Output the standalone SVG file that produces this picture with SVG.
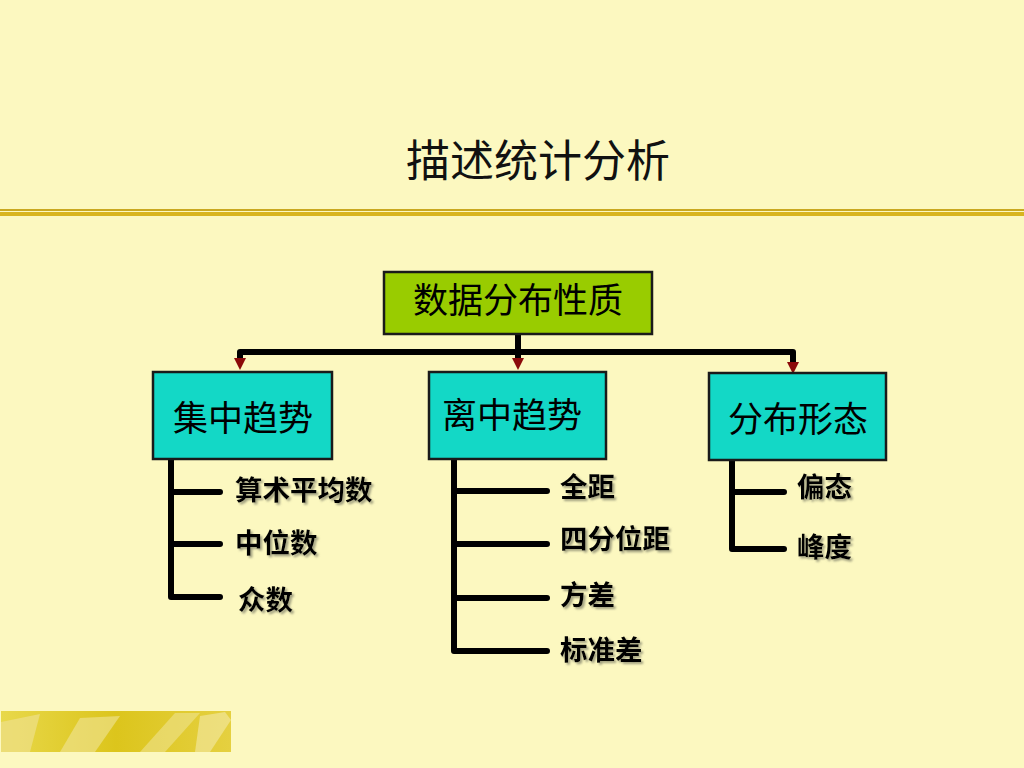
<svg xmlns="http://www.w3.org/2000/svg" width="1024" height="768" viewBox="0 0 1024 768">
<defs>
<style>
.cjk{font-family:"Liberation Sans","Noto Sans CJK SC",sans-serif;}
.title{font-size:44px;fill:#111;text-anchor:middle;}
.box{stroke:#1a1a1a;stroke-width:2.5;}
.boxtxt{font-size:35px;fill:#000;text-anchor:middle;}
.conn{fill:none;stroke:#000;stroke-width:6;stroke-linecap:round;stroke-linejoin:round;}
.leaf{font-size:27.5px;font-weight:bold;fill:#000;filter:url(#sh);}
</style>
<filter id="sh" x="-10%" y="-20%" width="130%" height="150%">
<feDropShadow dx="2" dy="2" stdDeviation="0.8" flood-color="#8a8a70" flood-opacity="0.8"/>
</filter>
<linearGradient id="deco" x1="0" y1="0" x2="1" y2="0">
<stop offset="0" stop-color="#E8D84A"/>
<stop offset="0.5" stop-color="#DCC51C"/>
<stop offset="1" stop-color="#E5D040"/>
</linearGradient>
</defs>
<rect x="0" y="0" width="1024" height="768" fill="#FCF8C0"/>
<text class="cjk title" x="538" y="177">描述统计分析</text>
<rect x="0" y="209" width="1024" height="2" fill="#C9A820"/>
<rect x="0" y="212" width="1024" height="4" fill="#D8B41E"/>
<g id="deco">
<rect x="1" y="711" width="230" height="41" fill="url(#deco)"/>
<path d="M1,722 L40,714 L30,752 L1,752 Z" fill="#EEE08A" opacity="0.7"/>
<path d="M60,752 L80,718 L120,716 L95,752 Z" fill="#F0E59A" opacity="0.6"/>
<path d="M140,752 L175,713 L200,713 L165,752 Z" fill="#EEE290" opacity="0.6"/>
<path d="M200,716 L225,712 L231,720 L210,752 L195,752 Z" fill="#F3E9A8" opacity="0.6"/>
</g>
<g id="connectors">
<path class="conn" d="M518,334 V352 H240 V358"/>
<path class="conn" d="M518,352 V358"/>
<path class="conn" d="M518,352 H793 V362"/>
<path d="M234,358 L246,358 L240,370 Z" fill="#8B0A0A"/>
<path d="M512,358 L524,358 L518,370 Z" fill="#8B0A0A"/>
<path d="M787,362 L799,362 L793,374 Z" fill="#8B0A0A"/>
<path class="conn" d="M171,460 V597 H220 M171,492 H220 M171,544 H220"/>
<path class="conn" d="M454,460 V651 H547 M454,491 H547 M454,544 H547 M454,598 H547"/>
<path class="conn" d="M732,461 V549 H784 M732,492 H784"/>
</g>
<g id="root">
<rect class="box" x="384" y="272" width="268" height="62" fill="#99CC00"/>
<text class="cjk boxtxt" x="518" y="313">数据分布性质</text>
</g>
<g id="n1">
<rect class="box" x="153" y="372" width="179" height="87" fill="#13D8C6"/>
<text class="cjk boxtxt" x="243" y="431">集中趋势</text>
</g>
<g id="n2">
<rect class="box" x="429" y="372" width="177" height="87" fill="#13D8C6"/>
<text class="cjk boxtxt" x="512" y="428">离中趋势</text>
</g>
<g id="n3">
<rect class="box" x="709" y="373" width="177" height="87" fill="#13D8C6"/>
<text class="cjk boxtxt" x="798" y="432">分布形态</text>
</g>
<g id="leaves">
<text class="cjk leaf" x="235" y="500">算术平均数</text>
<text class="cjk leaf" x="235" y="553">中位数</text>
<text class="cjk leaf" x="238" y="610">众数</text>
<text class="cjk leaf" x="560" y="497">全距</text>
<text class="cjk leaf" x="560" y="549">四分位距</text>
<text class="cjk leaf" x="560" y="605">方差</text>
<text class="cjk leaf" x="560" y="660">标准差</text>
<text class="cjk leaf" x="797" y="497">偏态</text>
<text class="cjk leaf" x="797" y="557">峰度</text>
</g>
</svg>
